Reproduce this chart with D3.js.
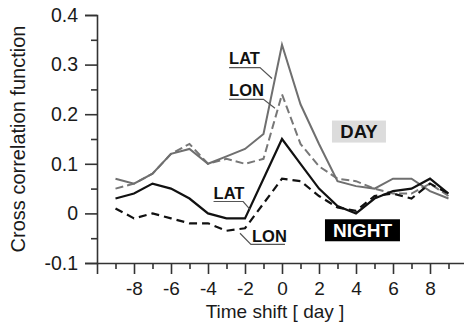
<!DOCTYPE html>
<html>
<head>
<meta charset="utf-8">
<script src="https://cdn.jsdelivr.net/npm/d3@7"></script>
<style>
  html, body { margin: 0; padding: 0; background: #fff; }
  svg { display: block; font-family: Arial, "Liberation Sans", Helvetica, sans-serif; }
</style>
</head>
<body>
<svg id="chart" width="464" height="334"></svg>
<script>
// Time shift in days
const shifts = [-9, -8, -7, -6, -5, -4, -3, -2, -1, 0, 1, 2, 3, 4, 5, 6, 7, 8, 9];

// Cross correlation, daytime
const dayLat = [0.07, 0.06, 0.08, 0.12, 0.13, 0.10, 0.115, 0.13, 0.16, 0.34, 0.22, 0.14, 0.065, 0.055, 0.05, 0.07, 0.07, 0.045, 0.03];
const dayLon = [0.05, 0.06, 0.08, 0.12, 0.14, 0.10, 0.11, 0.10, 0.11, 0.24, 0.14, 0.095, 0.07, 0.065, 0.05, 0.04, 0.04, 0.06, 0.035];

// Cross correlation, night-time
const nightLat = [0.03, 0.04, 0.06, 0.05, 0.03, 0.0, -0.01, -0.01, 0.07, 0.15, 0.10, 0.05, 0.015, 0.0, 0.03, 0.045, 0.05, 0.07, 0.04];
const nightLon = [0.01, -0.01, 0.0, -0.01, -0.02, -0.02, -0.035, -0.03, 0.02, 0.07, 0.065, 0.035, 0.012, 0.005, 0.035, 0.04, 0.03, 0.06, 0.04];

// Axis ticks
const xTickValues = [-9, -8, -7, -6, -5, -4, -3, -2, -1, 0, 1, 2, 3, 4, 5, 6, 7, 8, 9];
const xTickLabels = ["-8", "-6", "-4", "-2", "0", "2", "4", "6", "8"];
const yTickValues = [-0.1, -0.05, 0, 0.05, 0.1, 0.15, 0.2, 0.25, 0.3, 0.35, 0.4];
const yTickLabels = ["-0.1", "0", "0.1", "0.2", "0.3", "0.4"];

const svg = d3.select("#chart");
const plot = { left: 97, right: 467, top: 15, bottom: 263 };

const x = d3.scaleLinear().domain([-10, 10]).range([plot.left, plot.right]);
const y = d3.scaleLinear().domain([-0.1, 0.4]).range([plot.bottom, plot.top]);

const axisColor = "#333";
const textColor = "#1a1a1a";
const fs = 19.5;

// X axis: long ticks on even days (labelled), short on odd days
const xAxis = d3.axisBottom(x)
  .tickValues(xTickValues)
  .tickSizeOuter(0)
  .tickSize(11)
  .tickPadding(8)
  .tickFormat(d => {
    const s = String(d);
    return xTickLabels.includes(s) ? s : "";
  });

const gx = svg.append("g").attr("transform", `translate(0,${plot.bottom})`).call(xAxis);
gx.select(".domain").attr("stroke", axisColor).attr("stroke-width", 1.6);
gx.selectAll(".tick line")
  .attr("stroke", axisColor).attr("stroke-width", 1.6)
  .attr("y2", d => (Math.abs(d) % 2 === 1 ? 6 : 11));
gx.selectAll(".tick text")
  .attr("fill", textColor).attr("font-size", 19).attr("font-family", "Arial, 'Liberation Sans', sans-serif");

// Y axis: long ticks at tenths (labelled), short at midpoints
const yLabelOf = d => {
  const r = Math.round(d * 100) / 100;
  const s = String(r);
  return yTickLabels.includes(s) ? s : "";
};
const yAxis = d3.axisLeft(y)
  .tickValues(yTickValues)
  .tickSizeOuter(0)
  .tickSize(12)
  .tickPadding(7)
  .tickFormat(yLabelOf);

const gy = svg.append("g").attr("transform", `translate(${plot.left},0)`).call(yAxis);
gy.select(".domain").attr("stroke", axisColor).attr("stroke-width", 1.6);
gy.selectAll(".tick line")
  .attr("stroke", axisColor).attr("stroke-width", 1.6)
  .attr("x2", d => (yLabelOf(d) === "" ? -6 : -12));
gy.selectAll(".tick text")
  .attr("fill", textColor).attr("font-size", fs).attr("font-family", "Arial, 'Liberation Sans', sans-serif");

// Axis titles
svg.append("text")
  .attr("x", 275).attr("y", 318)
  .attr("text-anchor", "middle")
  .attr("font-size", 19).attr("fill", textColor)
  .text("Time shift [ day ]");

svg.append("text")
  .attr("transform", `translate(25,${(plot.top + plot.bottom) / 2}) rotate(-90)`)
  .attr("text-anchor", "middle")
  .attr("font-size", 20).attr("fill", textColor)
  .text("Cross correlation function");

// Series
const line = d3.line().x((d, i) => x(shifts[i])).y(d => y(d));
const series = [
  { values: dayLon, color: "#777", dash: "8,4", width: 2 },
  { values: dayLat, color: "#6f6f6f", dash: null, width: 2 },
  { values: nightLon, color: "#111", dash: "8,5", width: 2.2 },
  { values: nightLat, color: "#111", dash: null, width: 2.2 }
];
svg.append("g").selectAll("path")
  .data(series)
  .join("path")
  .attr("d", s => line(s.values))
  .attr("fill", "none")
  .attr("stroke", s => s.color)
  .attr("stroke-width", s => s.width)
  .attr("stroke-dasharray", s => s.dash)
  .attr("stroke-linejoin", "miter");

// Series labels with leader lines (positions in data units)
const labelFont = 16.5;
function leaderLabel(text, tx, ty, pts, color) {
  svg.append("text")
    .attr("x", x(tx)).attr("y", y(ty))
    .attr("font-size", labelFont).attr("font-weight", "bold").attr("fill", "#111")
    .text(text);
  svg.append("path")
    .attr("d", d3.line().x(p => x(p[0])).y(p => y(p[1]))(pts))
    .attr("fill", "none").attr("stroke", color).attr("stroke-width", 1.2);
}
leaderLabel("LAT", -2.86, 0.302, [[-2.86, 0.294], [-1.19, 0.294], [-0.54, 0.272]], "#555");
leaderLabel("LON", -2.86, 0.236, [[-2.86, 0.23], [-1.0, 0.23], [-0.38, 0.212]], "#555");
leaderLabel("LAT", -3.7, 0.029, [[-3.7, 0.024], [-2.1, 0.024], [-1.73, 0.008]], "#555");
leaderLabel("LON", -1.62, -0.058, [[-2.27, -0.04], [-1.68, -0.0625], [0.16, -0.0625]], "#555");

// DAY / NIGHT boxes
function tagBox(text, cx, cy, w, h, bg, fg, size) {
  svg.append("rect")
    .attr("x", x(cx) - w / 2).attr("y", y(cy) - h / 2)
    .attr("width", w).attr("height", h).attr("fill", bg);
  svg.append("text")
    .attr("x", x(cx)).attr("y", y(cy))
    .attr("dy", "0.36em")
    .attr("text-anchor", "middle")
    .attr("font-size", size).attr("font-weight", "bold").attr("fill", fg)
    .text(text);
}
tagBox("DAY", 4.16, 0.165, 54, 22, "#dcdcdc", "#111", 18.5);
tagBox("NIGHT", 4.35, -0.034, 75, 22, "#000", "#fff", 19);
</script>
</body>
</html>
